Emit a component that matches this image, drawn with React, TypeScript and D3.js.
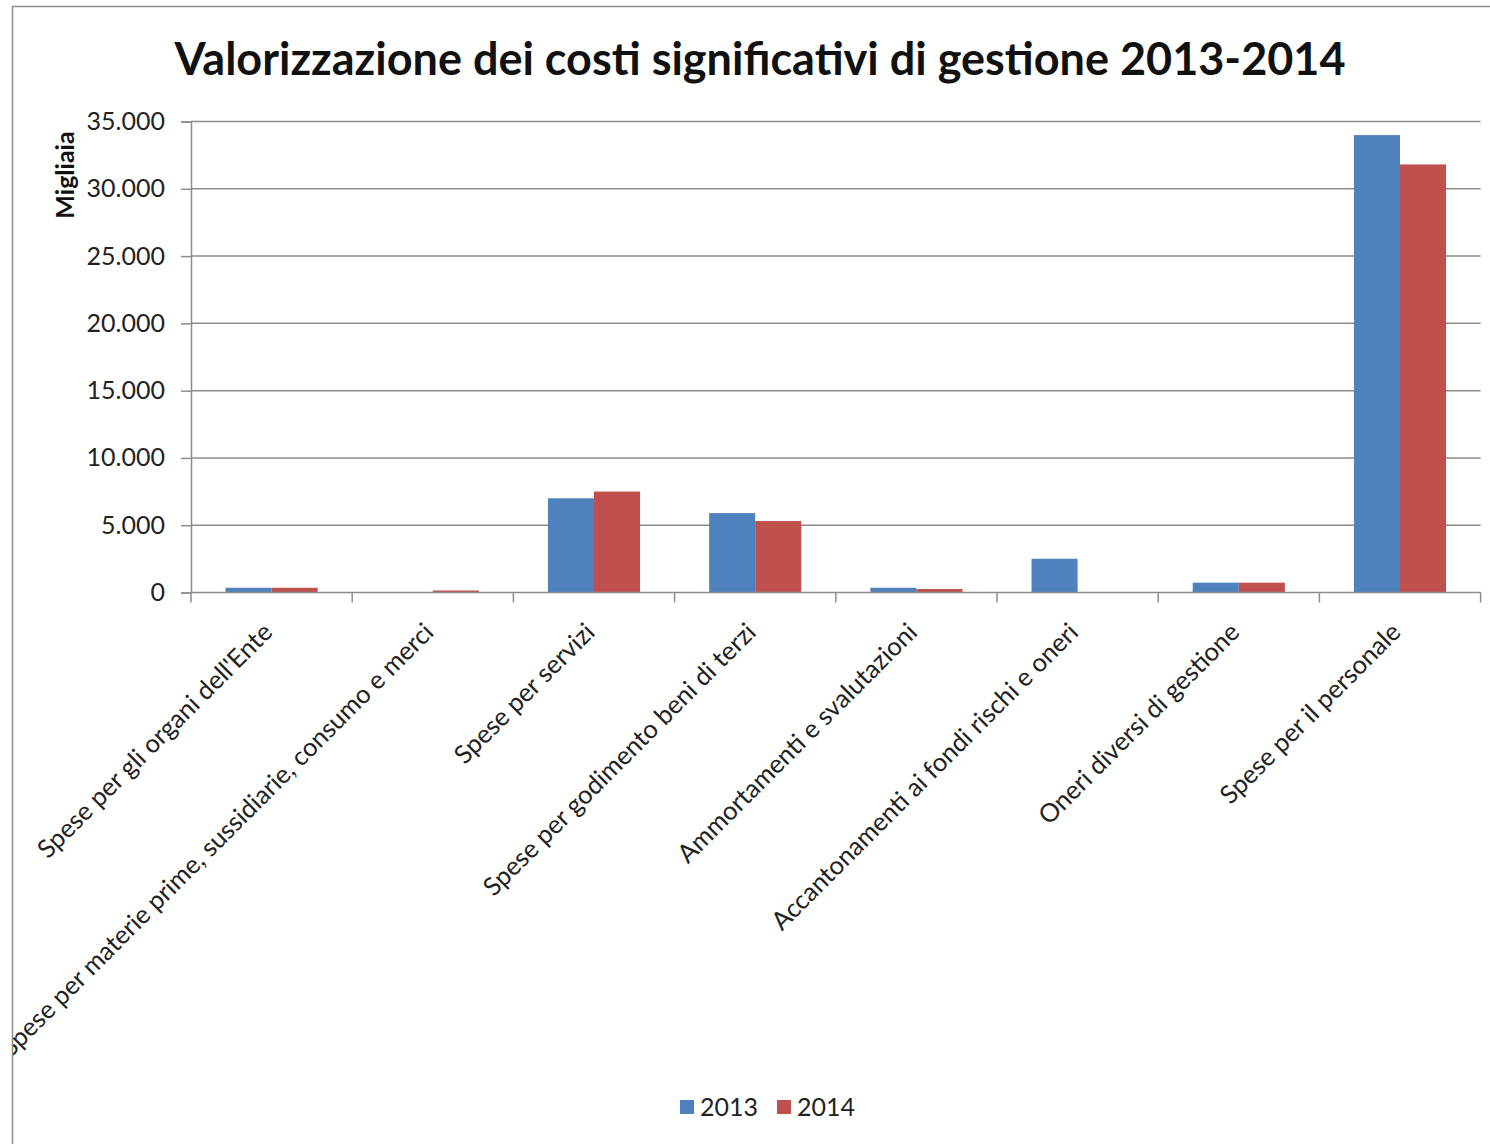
import { useEffect, useRef } from "react";
import * as d3 from "d3";

const categories = [
  "Spese per gli organi dell'Ente",
  "Spese per materie prime, sussidiarie, consumo e merci",
  "Spese per servizi",
  "Spese per godimento beni di terzi",
  "Ammortamenti e svalutazioni",
  "Accantonamenti ai fondi rischi e oneri",
  "Oneri diversi di gestione",
  "Spese per il personale",
];
const values2013 = [350, 0, 7000, 5900, 350, 2510, 730, 33990];
const values2014 = [350, 150, 7500, 5310, 260, 0, 730, 31810];
const series = ["2013", "2014"];
const yTicks = [0, 5000, 10000, 15000, 20000, 25000, 30000, 35000];

const colors = ["#4F81BD", "#C0504D"];
const FONT = "Lato, 'Open Sans', sans-serif";

const App = () => {
  const svgRef = useRef<SVGSVGElement>(null);

  useEffect(() => {
    document.body.style.margin = "0";
    const width = 1490;
    const height = 1144;
    const left = 191;
    const right = 1480.6;
    const top = 121.5;
    const bottom = 592.5;

    const svg = d3.select(svgRef.current);
    svg.selectAll("*").remove();
    svg.attr("width", width).attr("height", height);

    svg
      .append("rect")
      .attr("width", width)
      .attr("height", height)
      .attr("fill", "white");

    // the chart is cropped by its frame, like the original screenshot
    svg
      .append("clipPath")
      .attr("id", "frame-clip")
      .append("rect")
      .attr("x", 13)
      .attr("y", 7)
      .attr("width", 1500)
      .attr("height", 1160);

    const chart = svg.append("g").attr("clip-path", "url(#frame-clip)");

    // chart frame (cropped on the right and bottom)
    svg
      .append("rect")
      .attr("x", 12.5)
      .attr("y", 6.5)
      .attr("width", 1500)
      .attr("height", 1160)
      .attr("fill", "none")
      .attr("stroke", "#8c8c8c")
      .attr("stroke-width", 1.5);

    const x = d3.scaleBand().domain(categories).range([left, right]);
    const inner = d3
      .scaleBand()
      .domain(series)
      .range([0, x.bandwidth()])
      .paddingInner(0)
      .paddingOuter(0.75);
    const y = d3.scaleLinear().domain([0, 35000]).range([bottom, top]);

    // grid lines + y labels
    const fmt = (d: number) =>
      d === 0 ? "0" : d3.format(",")(d).replace(/,/g, ".");
    const yAxis = chart
      .append("g")
      .attr("transform", `translate(${left},0)`)
      .call(
        d3
          .axisLeft(y)
          .tickValues(yTicks)
          .tickSize(10)
          .tickPadding(16)
          .tickFormat((d) => fmt(d as number))
      );
    yAxis.select(".domain").attr("stroke", "#8c8c8c").attr("stroke-width", 1.5);
    yAxis.selectAll(".tick line").attr("stroke", "#8c8c8c").attr("stroke-width", 1.5);
    yAxis
      .selectAll(".tick text")
      .attr("fill", "#222")
      .style("font-family", FONT)
      .style("font-size", "25px");

    chart
      .append("g")
      .selectAll("line")
      .data(yTicks.filter((d) => d > 0))
      .enter()
      .append("line")
      .attr("x1", left)
      .attr("x2", right)
      .attr("y1", (d) => y(d))
      .attr("y2", (d) => y(d))
      .attr("stroke", "#8c8c8c")
      .attr("stroke-width", 1.5);

    // bars
    const groups = chart
      .append("g")
      .selectAll("g")
      .data(categories)
      .enter()
      .append("g")
      .attr("transform", (d) => `translate(${x(d)},0)`);

    groups
      .selectAll("rect")
      .data((d, i) => [
        { s: "2013", v: values2013[i] },
        { s: "2014", v: values2014[i] },
      ])
      .enter()
      .append("rect")
      .attr("x", (d) => inner(d.s) as number)
      .attr("width", inner.bandwidth())
      .attr("y", (d) => y(d.v))
      .attr("height", (d) => bottom - y(d.v))
      .attr("fill", (d) => colors[series.indexOf(d.s)]);

    // x axis
    const xAxis = chart.append("g").attr("transform", `translate(0,${bottom})`);
    xAxis
      .append("line")
      .attr("x1", left)
      .attr("x2", right)
      .attr("stroke", "#8c8c8c")
      .attr("stroke-width", 1.5);
    const bounds = categories.map((c) => x(c) as number).concat([right]);
    xAxis
      .selectAll(".tk")
      .data(bounds)
      .enter()
      .append("line")
      .attr("x1", (d) => d)
      .attr("x2", (d) => d)
      .attr("y1", 0)
      .attr("y2", 10)
      .attr("stroke", "#8c8c8c")
      .attr("stroke-width", 1.5);

    xAxis
      .selectAll(".lbl")
      .data(categories)
      .enter()
      .append("text")
      .attr(
        "transform",
        (d) => `translate(${(x(d) as number) + x.bandwidth() / 2 - 4},${35}) rotate(-45)`
      )
      .attr("text-anchor", "end")
      .attr("dy", "0.35em")
      .attr("fill", "#222")
      .style("font-family", FONT)
      .style("font-size", "25.5px")
      .text((d) => d);

    // title
    chart
      .append("text")
      .attr("x", 760)
      .attr("y", 75)
      .attr("text-anchor", "middle")
      .attr("fill", "#111")
      .style("font-family", FONT)
      .style("font-weight", "bold")
      .style("font-size", "45px")
      .text("Valorizzazione dei costi significativi di gestione 2013-2014");

    // y axis title
    chart
      .append("text")
      .attr("transform", "translate(74,175) rotate(-90)")
      .attr("text-anchor", "middle")
      .attr("fill", "#111")
      .style("font-family", FONT)
      .style("font-weight", "bold")
      .style("font-size", "25px")
      .text("Migliaia");

    // legend
    const legend = chart.append("g").attr("transform", "translate(680,1100)");
    const items = legend
      .selectAll("g")
      .data(series)
      .enter()
      .append("g")
      .attr("transform", (d, i) => `translate(${i * 97},0)`);
    items
      .append("rect")
      .attr("width", 14)
      .attr("height", 14)
      .attr("fill", (d, i) => colors[i]);
    items
      .append("text")
      .attr("x", 20)
      .attr("y", 16)
      .attr("fill", "#222")
      .style("font-family", FONT)
      .style("font-size", "25px")
      .text((d) => d);
  }, []);

  return <svg ref={svgRef}></svg>;
};

export default App;
